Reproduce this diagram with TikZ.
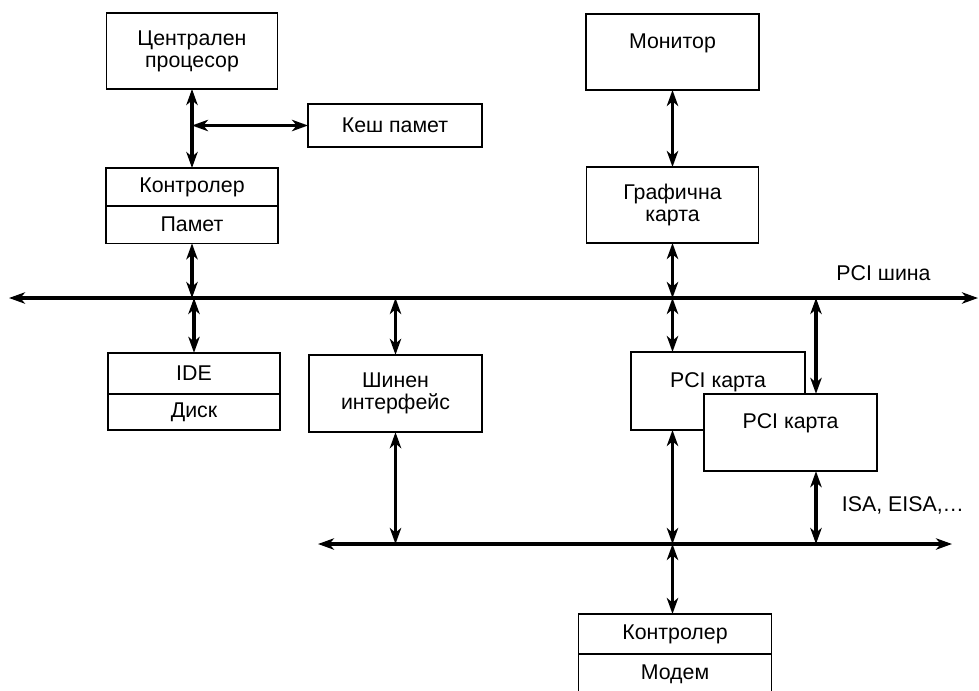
\documentclass[tikz,border=0pt]{standalone}
\usepackage{fontspec}
\setmainfont{Liberation Sans}
\usetikzlibrary{arrows.meta}
\tikzset{
  blk/.style={draw, line width=1.2pt, fill=white, align=center,
    inner sep=0pt, outer sep=0pt, font=\fontsize{16}{16.5}\selectfont},
  lbl/.style={inner sep=0pt, font=\fontsize{16}{16.5}\selectfont},
  conn/.style={line width=2.4pt, {Stealth[length=12pt,width=8.5pt,inset=3.5pt]}-{Stealth[length=12pt,width=8.5pt,inset=3.5pt]}}
}
\begin{document}
\begin{tikzpicture}[x=0.75pt,y=-0.75pt]
  \useasboundingbox (0,0) rectangle (979,690);
  % boxes
  \node[blk, minimum width=128pt, minimum height=57pt] (cpu) at (192,51) {Централен\\процесор};
  \node[blk, minimum width=130.5pt, minimum height=32pt] (cache) at (395,125.5) {Кеш памет};
  \node[blk, minimum width=129pt, minimum height=28.5pt] (ctrl) at (192,187) {Контролер};
  \node[blk, minimum width=129pt, minimum height=28pt, anchor=north] (mem) at (ctrl.south) {Памет};
  \node[blk, minimum width=129pt, minimum height=31pt] (ide) at (194,373.5) {IDE};
  \node[blk, minimum width=129pt, minimum height=27pt, anchor=north] (disk) at (ide.south) {Диск};
  \node[blk, minimum width=130pt, minimum height=58pt] (bif) at (395.5,393.5) {Шинен\\интерфейс};
  \node[blk, minimum width=130pt, minimum height=57pt] (mon) at (672.5,52) {Монитор\\~};
  \node[blk, minimum width=129pt, minimum height=57pt] (gfx) at (672.5,205) {Графична\\карта};
  \node[blk, minimum width=130.5pt, minimum height=58.5pt] (pci1) at (718,391) {PCI карта\\~};
  \node[blk, minimum width=130pt, minimum height=58pt] (pci2) at (790.5,432.5) {PCI карта\\~};
  \node[blk, minimum width=144.5pt, minimum height=30pt] (mctrl) at (675,634) {Контролер};
  \node[blk, minimum width=144.5pt, minimum height=30pt, anchor=north] (modem) at (mctrl.south) {Модем};
  % buses
  \coordinate (pciL) at (9,298);
  \coordinate (pciR) at (978,298);
  \coordinate (isaL) at (318,544);
  \coordinate (isaR) at (952,544);
  \coordinate (isaX) at (816,544);
  \draw[conn] (pciL) -- (pciR);
  \draw[conn] (isaL) -- (isaR);
  \node[lbl] (pcitxt) at (883.5,273) {PCI шина};
  \node[lbl] (isatxt) at (903,505) {ISA, EISA,…};
  % connectors
  \coordinate (cj) at (cpu.south |- cache.west);
  \draw[conn] (cpu.south) -- (ctrl.north);
  \draw[conn] (cj) -- (cache.west);
  \draw[conn] (mem.south) -- (mem.south |- pciL);
  \draw[conn] (ide.north |- pciL) -- (ide.north);
  \draw[conn] (bif.north |- pciL) -- (bif.north);
  \draw[conn] (bif.south) -- (bif.south |- isaL);
  \draw[conn] (mon.south) -- (gfx.north);
  \draw[conn] (gfx.south) -- (gfx.south |- pciL);
  \draw[conn] (gfx.south |- pciL) -- (pci1.north -| gfx.south);
  \draw[conn] (pci1.south -| gfx.south) -- (gfx.south |- isaL);
  \draw[conn] (gfx.south |- isaL) -- (mctrl.north -| gfx.south);
  \draw[conn] (isaX |- pciL) -- (isaX |- pci2.north);
  \draw[conn] (pci2.south -| isaX) -- (isaX);
\end{tikzpicture}
\end{document}
